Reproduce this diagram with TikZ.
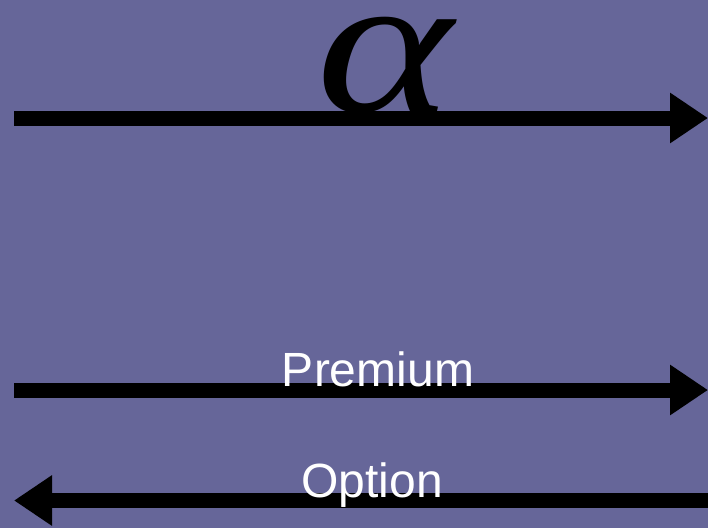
\documentclass[tikz,border=0pt]{standalone}
\usepackage{fontspec}
\setmainfont{Liberation Sans}
\newfontfamily\greekserif{Liberation Serif}
\usetikzlibrary{arrows.meta}
\definecolor{bgpurple}{RGB}{102,102,153}
\tikzset{
  bigarrow/.style={line width=15pt,-{Triangle[length=38pt,width=48pt]}},
  lbl/.style={text=white,font=\fontsize{48}{48}\selectfont,anchor=base,inner sep=0pt},
}
\begin{document}
\begin{tikzpicture}[x=1pt,y=-1pt]
\fill[bgpurple] (0,0) rectangle (708,528);
\useasboundingbox (0,0) rectangle (708,528);
\coordinate (a1s) at (14,118);
\coordinate (a1e) at (708,118);
\coordinate (a2s) at (14,390);
\coordinate (a2e) at (708,390);
\coordinate (a3s) at (708,500.5);
\coordinate (a3e) at (14,500.5);
\draw[bigarrow] (a1s) -- (a1e);
\draw[bigarrow] (a2s) -- (a2e);
\draw[bigarrow] (a3s) -- (a3e);
\node[anchor=base,inner sep=0pt,font=\greekserif\itshape\fontsize{200}{200}\selectfont] (alpha) at (385,111) {\scalebox{1.3}[1]{α}};
\node[lbl] (premium) at (378,386) {Premium};
\node[lbl] (option) at (372,497) {Option};
\end{tikzpicture}
\end{document}
